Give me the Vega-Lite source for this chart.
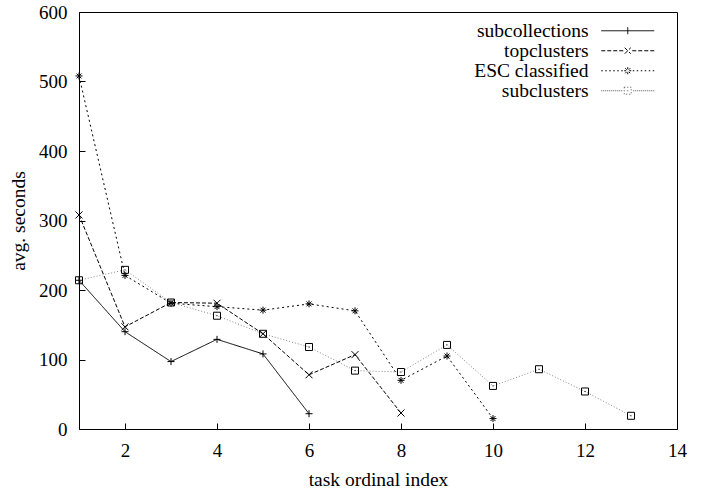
{
  "$schema": "https://vega.github.io/schema/vega-lite/v6.json",
  "width": 598,
  "height": 417,
  "autosize": {"type": "none"},
  "padding": {"left": 79, "top": 12, "right": 31, "bottom": 61},
  "background": "white",
  "config": {
    "font": "Liberation Serif",
    "view": {"stroke": "black", "strokeWidth": 1},
    "axis": {
      "domain": false,
      "grid": false,
      "ticks": true,
      "tickColor": "black",
      "tickSize": 6,
      "tickWidth": 1,
      "tickOpacity": 1,
      "offset": -6,
      "zindex": 1,
      "labelFont": "Liberation Serif",
      "labelFontSize": 19,
      "labelColor": "black",
      "titleFont": "Liberation Serif",
      "titleFontSize": 19.5,
      "titleFontWeight": "normal",
      "titleColor": "black"
    }
  },
  "data": {
    "values": [
      {"series": "subcollections", "task": 1, "seconds": 214},
      {"series": "subcollections", "task": 2, "seconds": 140},
      {"series": "subcollections", "task": 3, "seconds": 97},
      {"series": "subcollections", "task": 4, "seconds": 129},
      {"series": "subcollections", "task": 5, "seconds": 108},
      {"series": "subcollections", "task": 6, "seconds": 22},
      {"series": "topclusters", "task": 1, "seconds": 308},
      {"series": "topclusters", "task": 2, "seconds": 147},
      {"series": "topclusters", "task": 3, "seconds": 182},
      {"series": "topclusters", "task": 4, "seconds": 181},
      {"series": "topclusters", "task": 5, "seconds": 137},
      {"series": "topclusters", "task": 6, "seconds": 78},
      {"series": "topclusters", "task": 7, "seconds": 107},
      {"series": "topclusters", "task": 8, "seconds": 23},
      {"series": "ESC classified", "task": 1, "seconds": 508},
      {"series": "ESC classified", "task": 2, "seconds": 221},
      {"series": "ESC classified", "task": 3, "seconds": 181},
      {"series": "ESC classified", "task": 4, "seconds": 176},
      {"series": "ESC classified", "task": 5, "seconds": 171},
      {"series": "ESC classified", "task": 6, "seconds": 180},
      {"series": "ESC classified", "task": 7, "seconds": 170},
      {"series": "ESC classified", "task": 8, "seconds": 70},
      {"series": "ESC classified", "task": 9, "seconds": 105},
      {"series": "ESC classified", "task": 10, "seconds": 15},
      {"series": "subclusters", "task": 1, "seconds": 214},
      {"series": "subclusters", "task": 2, "seconds": 229},
      {"series": "subclusters", "task": 3, "seconds": 182},
      {"series": "subclusters", "task": 4, "seconds": 163},
      {"series": "subclusters", "task": 5, "seconds": 137},
      {"series": "subclusters", "task": 6, "seconds": 118},
      {"series": "subclusters", "task": 7, "seconds": 84},
      {"series": "subclusters", "task": 8, "seconds": 82},
      {"series": "subclusters", "task": 9, "seconds": 121},
      {"series": "subclusters", "task": 10, "seconds": 62},
      {"series": "subclusters", "task": 11, "seconds": 86},
      {"series": "subclusters", "task": 12, "seconds": 54},
      {"series": "subclusters", "task": 13, "seconds": 19}
    ]
  },
  "encoding": {
    "x": {
      "field": "task", "type": "quantitative",
      "scale": {"domain": [1, 14], "nice": false, "zero": false},
      "axis": {"values": [2, 4, 6, 8, 10, 12, 14], "title": "task ordinal index", "labelPadding": 12, "titlePadding": 10, "labelFlush": false}
    },
    "y": {
      "field": "seconds", "type": "quantitative",
      "scale": {"domain": [0, 600], "nice": false},
      "axis": {"values": [0, 100, 200, 300, 400, 500, 600], "title": "avg. seconds", "labelPadding": 12, "titlePadding": 10, "labelFlush": false}
    }
  },
  "layer": [
    {
      "mark": {"type": "line", "strokeWidth": 1},
      "encoding": {
        "order": {"field": "task", "type": "quantitative"},
        "strokeDash": {
          "field": "series", "type": "nominal",
          "scale": {
            "domain": ["subcollections", "topclusters", "ESC classified", "subclusters"],
            "range": [[1, 0], [4, 2], [2, 3], [1, 2]]
          },
          "legend": {
            "title": null,
            "orient": "none",
            "legendX": 539,
            "legendY": 9,
            "padding": 0,
            "labelFont": "Liberation Serif",
            "labelFontSize": 19.5,
            "labelColor": "black",
            "labelAlign": "right",
            "labelOffset": -49,
            "labelLimit": 300,
            "rowPadding": -2,
            "symbolSize": 100,
            "symbolStrokeWidth": 1,
            "encoding": {
              "symbols": {
                "shape": {
                  "condition": [
                    {"test": "datum.value === 'subcollections'", "value": "M-5.3,0H5.3M0,-0.7V0.7"},
                    {"test": "datum.value === 'topclusters'", "value": "M-5.3,0H-4.5M-4.1,0H-3.3M-2.9,0H-2.1M-1.7,0H-0.9M0.9,0H1.7M2.1,0H2.9M3.3,0H4.1M4.5,0H5.3M-0.6,-0.6L0.6,0.6M-0.6,0.6L0.6,-0.6"},
                    {"test": "datum.value === 'ESC classified'", "value": "M-5.3,0H-5M-4.5,0H-4.2M-3.7,0H-3.4M-2.9,0H-2.6M-2.1,0H-1.8M-1.3,0H-1M1,0H1.3M1.8,0H2.1M2.6,0H2.9M3.4,0H3.7M4.2,0H4.5M5,0H5.3M-0.7,0H0.7M0,-0.7V0.7M-0.5,-0.5L0.5,0.5M-0.5,0.5L0.5,-0.5"}
                  ],
                  "value": "M-5.3,0H-5.1M-4.9,0H-4.7M-4.5,0H-4.3M-4.1,0H-3.9M-3.7,0H-3.5M-3.3,0H-3.1M-2.9,0H-2.7M-2.5,0H-2.3M-2.1,0H-1.9M-1.7,0H-1.5M-1.3,0H-1.1M1.1,0H1.3M1.5,0H1.7M1.9,0H2.1M2.3,0H2.5M2.7,0H2.9M3.1,0H3.3M3.5,0H3.7M3.9,0H4.1M4.3,0H4.5M4.7,0H4.9M5.1,0H5.3M-0.7,-0.7H0.7V0.7H-0.7ZM-0.1,0H0.1"
                },
                "strokeDash": {"value": [1, 0]},
                "fill": {"value": "transparent"},
                "stroke": {
                  "condition": {"test": "datum.value === 'subclusters'", "value": "#555555"},
                  "value": "black"
                },
                "strokeWidth": {"value": 1},
                "size": {"value": 100},
                "opacity": {"value": 1}
              }
            }
          }
        },
        "stroke": {
          "condition": {"test": "datum.series === 'subclusters'", "value": "#888888"},
          "value": "black"
        }
      }
    },
    {
      "mark": {"type": "point", "filled": false, "size": 49, "strokeWidth": 1, "color": "black", "opacity": 1},
      "encoding": {
        "shape": {
          "condition": [
            {"test": "datum.series === 'subcollections'", "value": "M-1,0H1M0,-1V1"},
            {"test": "datum.series === 'topclusters'", "value": "M-1,-1L1,1M-1,1L1,-1"},
            {"test": "datum.series === 'ESC classified'", "value": "M-1,0H1M0,-1V1M-0.7,-0.7L0.7,0.7M-0.7,0.7L0.7,-0.7"}
          ],
          "value": "M-1,-1H1V1H-1ZM-0.15,0H0.15"
        }
      }
    }
  ]
}
